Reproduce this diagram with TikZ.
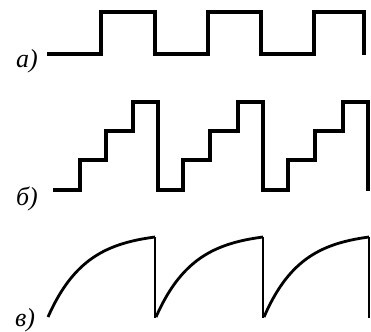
\documentclass[tikz,border=0pt]{standalone}
\usepackage{fontspec}
\setmainfont{Liberation Serif}
\usetikzlibrary{positioning}

\begin{document}
\begin{tikzpicture}[
  x=1pt, y=-1pt,
  wave/.style={line width=3.3pt, line cap=butt},
  drop/.style={line width=1.5pt},
  lbl/.style={font=\fontsize{26}{30}\selectfont\itshape, inner sep=0pt},
]
\useasboundingbox (0,0) rectangle (371,331);
% labels
\node[lbl] (lbla) at (27,61) {а)};
\node[lbl] (lblb) at (27,199) {б)};
\node[lbl] (lblc) at (25,320) {в)};
% a) square wave
\draw[wave] (47,54) -| (101,12) -| (155,54) -| (208,12) -| (261,54) -| (314,12) -| (364,55);
% b) staircase
\draw[wave] (53,190) -| (80,160) -| (106,131) -| (133,102) -| (158,190)
  -| (183,160) -| (210,131) -| (238,102) -| (263,190)
  -| (288,160) -| (315,131) -| (343,102) -| (368,191);
% c) charging curves with sharp drops
\foreach \sa/\sb in {48/155, 156/263, 264/369}{
  \draw[wave, line width=2.8pt] plot[domain=0:1, samples=40, smooth]
    ({\sa+\x*(\sb-\sa)}, {317-80*(1-exp(-\x/0.35))/(1-exp(-1/0.35))});
  \draw[drop] (\sb,237) -- (\sb,318);
}
\end{tikzpicture}
\end{document}
